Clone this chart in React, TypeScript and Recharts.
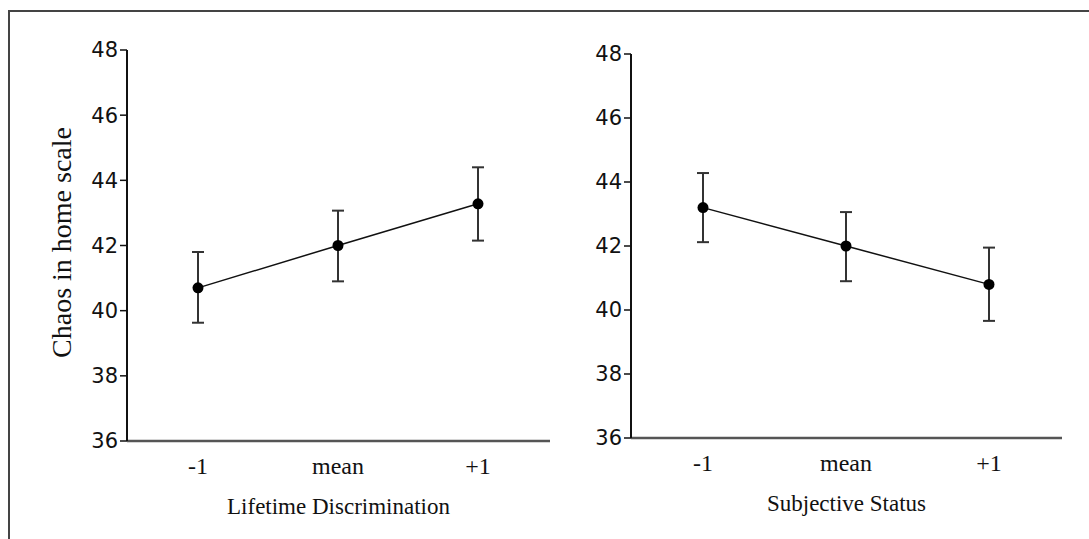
import React from 'react';
import { LineChart, Line, XAxis, YAxis, ErrorBar } from 'recharts';

const categories = ['-1', 'mean', '+1'];
const yTicks = [36, 38, 40, 42, 44, 46, 48];

const discriminationMean = [40.7, 42.0, 43.28];
const discriminationLow = [39.63, 40.9, 42.15];
const discriminationHigh = [41.8, 43.07, 44.4];

const statusMean = [43.2, 42.0, 40.8];
const statusLow = [42.12, 40.9, 39.66];
const statusHigh = [44.28, 43.06, 41.95];

const build = (mean: number[], low: number[], high: number[]) =>
  categories.map((c, i) => ({
    name: c,
    value: mean[i],
    err: [+(mean[i] - low[i]).toFixed(2), +(high[i] - mean[i]).toFixed(2)],
  }));

const discriminationData = build(discriminationMean, discriminationLow, discriminationHigh);
const statusData = build(statusMean, statusLow, statusHigh);

const serif = '"Liberation Serif", "Times New Roman", serif';
const sans = '"DejaVu Sans", sans-serif';

interface PanelProps {
  data: { name: string; value: number; err: number[] }[];
  width: number;
  top: number;
  bottom: number;
  yAxisWidth: number;
  right: number;
  padLeft: number;
  padRight: number;
  xLabel: string;
  yLabel?: string;
}

function Panel({ data, width, top, bottom, yAxisWidth, right, padLeft, padRight, xLabel, yLabel }: PanelProps) {
  return (
    <LineChart width={width} height={539} data={data} margin={{ top, right, bottom, left: 0 }}>
      <XAxis
        dataKey="name"
        height={90}
        padding={{ left: padLeft, right: padRight }}
        axisLine={{ stroke: '#555', strokeWidth: 2.5 }}
        tickLine={false}
        tickSize={6}
        tickMargin={10}
        tick={{ fontFamily: serif, fontSize: 24, fill: '#111' }}
        label={{
          content: ({ viewBox }: any) => (
            <text
              x={viewBox.x + viewBox.width / 2}
              y={viewBox.y + 73}
              textAnchor="middle"
              fontFamily={serif}
              fontSize={23}
              fill="#111"
            >
              {xLabel}
            </text>
          ),
        }}
      />
      <YAxis
        width={yAxisWidth}
        domain={[36, 48]}
        ticks={yTicks}
        interval={0}
        axisLine={{ stroke: '#111', strokeWidth: 2 }}
        tickLine={{ stroke: '#111', strokeWidth: 1.5 }}
        tickSize={7}
        tickMargin={2}
        tick={{ fontFamily: sans, fontSize: 21, fill: '#111' }}
        label={
          yLabel
            ? {
                content: ({ viewBox }: any) => (
                  <text
                    x={71}
                    y={viewBox.y + viewBox.height / 2 - 3}
                    transform={`rotate(-90 71 ${viewBox.y + viewBox.height / 2 - 3})`}
                    textAnchor="middle"
                    fontFamily={serif}
                    fontSize={28}
                    fill="#111"
                  >
                    {yLabel}
                  </text>
                ),
              }
            : undefined
        }
      />
      <Line
        type="linear"
        dataKey="value"
        stroke="#111"
        strokeWidth={1.5}
        dot={{ r: 5.5, fill: '#000', stroke: '#000', strokeWidth: 0 }}
        activeDot={false}
        isAnimationActive={false}
      >
        <ErrorBar dataKey="err" direction="y" width={6} stroke="#333" strokeWidth={2} isAnimationActive={false} />
      </Line>
    </LineChart>
  );
}

export default function App() {
  return (
    <div style={{ position: 'relative', width: 1089, height: 539, background: '#fff', overflow: 'hidden' }}>
      <style>{`body{margin:0;overflow:hidden;}`}</style>
      <div
        style={{
          position: 'absolute',
          left: 8,
          top: 10,
          width: 1200,
          height: 700,
          borderTop: '2px solid #444',
          borderLeft: '2px solid #444',
        }}
      />
      <div style={{ position: 'absolute', left: 0, top: 0 }}>
        <Panel
          data={discriminationData}
          width={560}
          top={50}
          bottom={8}
          yAxisWidth={127}
          right={10}
          padLeft={71}
          padRight={72}
          xLabel="Lifetime  Discrimination"
          yLabel="Chaos in home scale"
        />
      </div>
      <div style={{ position: 'absolute', left: 560, top: 0 }}>
        <Panel
          data={statusData}
          width={529}
          top={54}
          bottom={11}
          yAxisWidth={71}
          right={27}
          padLeft={72}
          padRight={73}
          xLabel="Subjective Status"
        />
      </div>
    </div>
  );
}
